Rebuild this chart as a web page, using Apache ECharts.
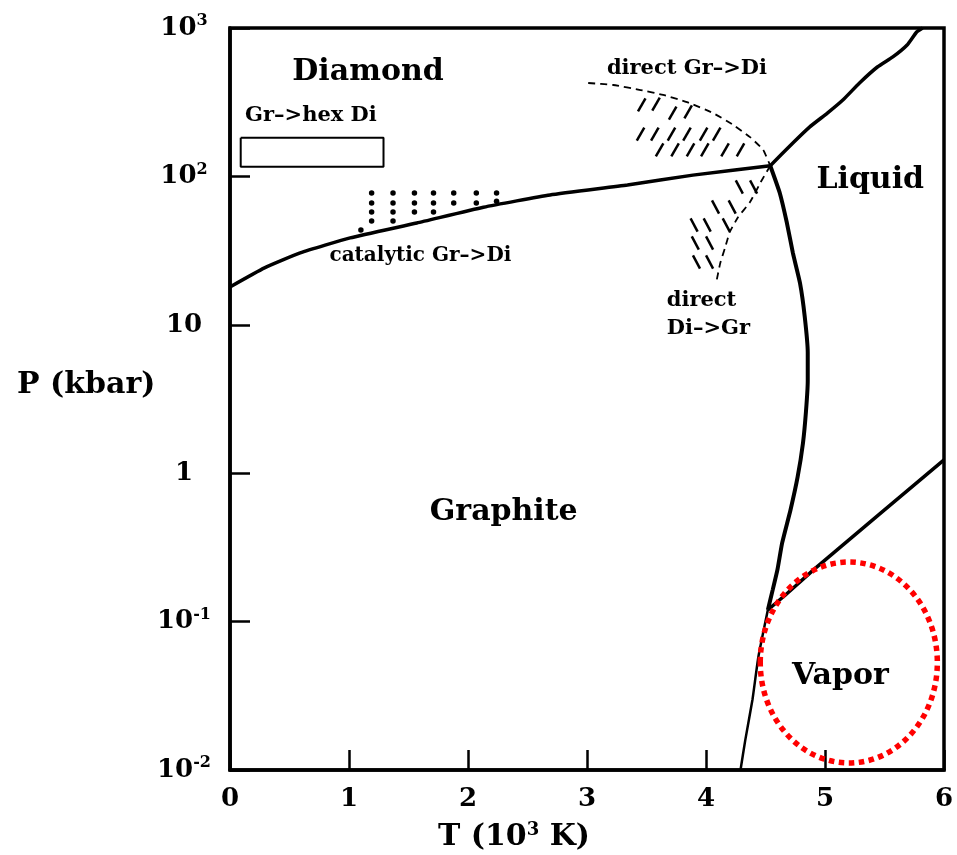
<!DOCTYPE html>
<html><head><meta charset="utf-8">
<script src="https://cdn.jsdelivr.net/npm/echarts@6/dist/echarts.min.js"></script>
<style>html,body{margin:0;padding:0;background:#fff}#c{width:957px;height:855px}</style>
</head><body><div id="c"></div>
<script>
// ---- data (T in 10^3 K, P in kbar) ----
const xTicks = [0, 1, 2, 3, 4, 5, 6];
const yTickBase = ['10', '10', '1', '10', '10', '10'];
const yTickExp = ['-2', '-1', '', '', '2', '3'];

const grDiBoundary = [[0, 18], [0.29, 24.2], [0.59, 30.5], [1.01, 38.5], [1.57, 48.5], [2.13, 62], [2.69, 75], [3.34, 87.5], [3.89, 102], [4.54, 118]];
const diLiqBoundary = [[4.54, 118], [4.73, 168], [4.87, 215], [5.02, 267], [5.15, 327], [5.29, 426], [5.44, 546], [5.57, 638], [5.69, 768], [5.77, 940], [5.82, 1000]];
const grLiqBoundary = [[4.54, 118], [4.62, 77.3], [4.68, 48.5], [4.73, 30.5], [4.79, 19.1], [4.83, 11.3], [4.855, 6.5], [4.855, 4.2], [4.84, 2.6], [4.815, 1.6], [4.77, 0.943], [4.71, 0.565], [4.64, 0.339], [4.60, 0.223], [4.56, 0.163], [4.52, 0.12]];
const grVapBoundary = [[4.52, 0.12], [4.44, 0.0577], [4.39, 0.0296], [4.33, 0.0159], [4.29, 0.01]];
const liqVapBoundary = [[4.52, 0.12], [4.65, 0.147], [4.93, 0.233], [6.0, 1.23]];
const directGrDiLimit = [[3.01, 426], [3.22, 413], [3.45, 382], [3.64, 354], [3.84, 317], [4.06, 267], [4.23, 222], [4.37, 184], [4.48, 151], [4.54, 118]];
const directDiGrLimit = [[4.54, 118], [4.47, 94.6], [4.37, 67.2], [4.27, 53.2], [4.20, 42.2], [4.16, 33.0], [4.12, 26.1], [4.09, 20.0]];
const hexDiBox = [[0.09, 182], [1.29, 182], [1.29, 116], [0.09, 116], [0.09, 182]];

const catalyticDots = [
  [1.19, 77.3], [1.19, 66.2], [1.19, 57.5], [1.19, 50.1],
  [1.37, 77.3], [1.37, 66.2], [1.37, 57.5], [1.37, 50.1],
  [1.55, 77.3], [1.55, 66.2], [1.55, 57.5],
  [1.71, 77.3], [1.71, 66.2], [1.71, 57.5],
  [1.88, 77.3], [1.88, 66.2],
  [2.07, 77.3], [2.07, 66.2],
  [2.24, 77.3], [2.24, 68],
  [1.10, 43.6]
];
const upperHatch = [[3.46, 303], [3.58, 307], [3.72, 267], [3.85, 272],
  [3.45, 193], [3.57, 193], [3.71, 193], [3.84, 193], [3.98, 193], [4.09, 193],
  [3.61, 151], [3.74, 151], [3.87, 151], [3.99, 151], [4.16, 151], [4.29, 151]];
const lowerHatch = [[4.28, 84.9], [4.40, 84.9], [4.08, 62.2], [4.22, 62.2],
  [3.90, 47.0], [4.01, 47.0], [4.17, 47.0], [3.91, 35.6], [4.03, 35.6], [3.92, 26.5], [4.03, 26.5]];

// vapor region: centre T, centre P, half-width (T), half-height (decades)
const vaporRegion = [5.2, 0.053, 0.744, 0.677];

// region labels: text, T, P, font size, align
const regionLabels = [
  ['Diamond', 1.16, 506, 30, 'center'],
  ['Gr\u2013>hex Di', 0.68, 259, 21, 'center'],
  ['direct Gr\u2013>Di', 3.84, 537, 21, 'center'],
  ['catalytic Gr\u2013>Di', 1.60, 29.1, 20, 'center'],
  ['direct', 3.67, 14.5, 21, 'left'],
  ['Di\u2013>Gr', 3.67, 9.38, 21, 'left'],
  ['Liquid', 5.38, 94.6, 30, 'center'],
  ['Graphite', 2.30, 0.548, 30, 'center'],
  ['Vapor', 5.13, 0.043, 30, 'center']
];

const FONT = 'DejaVu Serif';
const chart = echarts.init(document.getElementById('c'));

function lineSeries(data, width, dashed) {
  return {
    type: 'line', data: data, showSymbol: false, symbol: 'none', smooth: 0.15,
    lineStyle: { color: '#000', width: width, type: dashed ? [7, 5] : 'solid' },
    silent: true, clip: true, z: 3
  };
}

chart.setOption({
  animation: false,
  backgroundColor: '#fff',
  grid: { left: 230, right: 13, top: 28, bottom: 85, show: true, borderColor: '#000', borderWidth: 3.5, backgroundColor: 'transparent' },
  title: [
    { text: 'P (kbar)', left: 12, top: 365, textStyle: { fontFamily: FONT, fontWeight: 'bold', fontSize: 30, color: '#000' } },
    { text: '{b|T (10}{s|3}{b| K)}', left: 433, top: 816,
      textStyle: { rich: {
        b: { fontFamily: FONT, fontWeight: 'bold', fontSize: 30, color: '#000' },
        s: { fontFamily: FONT, fontWeight: 'bold', fontSize: 18, color: '#000', padding: [0, 0, 14, 0] }
      } } }
  ],
  xAxis: {
    type: 'value', min: xTicks[0], max: xTicks[xTicks.length - 1], interval: 1,
    axisLine: { show: true, lineStyle: { color: '#000', width: 3.5 } },
    axisTick: { show: true, inside: true, length: 20, lineStyle: { color: '#000', width: 2.5 } },
    axisLabel: { margin: 16, fontFamily: FONT, fontWeight: 'bold', fontSize: 26, color: '#000',
      formatter: v => String(xTicks[Math.round(v)]) },
    splitLine: { show: false }
  },
  yAxis: {
    type: 'log', logBase: 10, min: 0.01, max: 1000,
    axisLine: { show: true, lineStyle: { color: '#000', width: 3.5 } },
    axisTick: { show: true, inside: true, length: 20, lineStyle: { color: '#000', width: 2.5 } },
    minorTick: { show: false },
    splitLine: { show: false },
    axisLabel: {
      margin: 46, align: 'center',
      formatter: v => {
        const i = Math.round(Math.log10(v)) + 2;
        return '{b|' + yTickBase[i] + '}' + (yTickExp[i] ? '{s|' + yTickExp[i] + '}' : '');
      },
      rich: {
        b: { fontFamily: FONT, fontWeight: 'bold', fontSize: 26, color: '#000' },
        s: { fontFamily: FONT, fontWeight: 'bold', fontSize: 16, color: '#000', padding: [0, 0, 14, 0] }
      }
    }
  },
  series: [
    lineSeries(grDiBoundary, 3.5),
    lineSeries(diLiqBoundary, 3.5),
    lineSeries(grLiqBoundary, 4),
    lineSeries(grVapBoundary, 2.5),
    lineSeries(liqVapBoundary, 3.5),
    lineSeries(directGrDiLimit, 1.8, true),
    lineSeries(directDiGrLimit, 1.8, true),
    Object.assign(lineSeries(hexDiBox, 2), { smooth: false }),
    { type: 'scatter', data: catalyticDots, symbol: 'circle', symbolSize: 5.5, itemStyle: { color: '#000', opacity: 1 }, silent: true, z: 4 },
    { type: 'scatter', data: upperHatch, symbol: 'rect', symbolSize: [2.5, 15], symbolRotate: -30, itemStyle: { color: '#000', opacity: 1 }, silent: true, z: 4 },
    { type: 'scatter', data: lowerHatch, symbol: 'rect', symbolSize: [2.5, 15], symbolRotate: 28, itemStyle: { color: '#000', opacity: 1 }, silent: true, z: 4 },
    {
      type: 'custom', silent: true, z: 5,
      data: regionLabels.map(r => [r[1], r[2]]),
      renderItem: (params, api) => {
        const r = regionLabels[params.dataIndex];
        const c = api.coord([api.value(0), api.value(1)]);
        return { type: 'text', x: c[0], y: c[1], style: {
          text: r[0], fill: '#000', fontFamily: FONT, fontWeight: 'bold', fontSize: r[3],
          font: 'bold ' + r[3] + 'px "' + FONT + '"',
          align: r[4], verticalAlign: 'middle', textAlign: r[4], textVerticalAlign: 'middle' } };
      }
    },
    {
      type: 'custom', silent: true, z: 6,
      data: [vaporRegion],
      renderItem: (params, api) => {
        const t = api.value(0), p = api.value(1);
        const c = api.coord([t, p]);
        const rx = api.coord([t + api.value(2), p])[0] - c[0];
        const ry = c[1] - api.coord([t, p * Math.pow(10, api.value(3))])[1];
        return { type: 'ellipse', shape: { cx: c[0], cy: c[1], rx: rx, ry: ry },
          style: { fill: 'none', stroke: '#f00', lineWidth: 5.5, lineDash: [5.5, 4.5] } };
      }
    }
  ]
});
</script>
</body></html>
